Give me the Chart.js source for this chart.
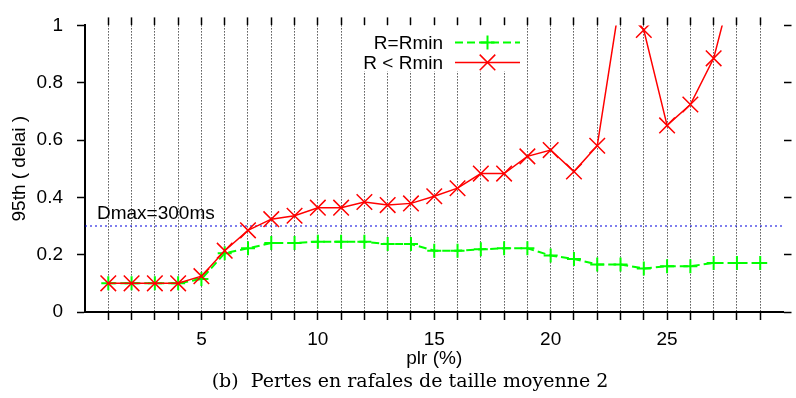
<!DOCTYPE html>
<html>
<head>
<meta charset="utf-8">
<script src="https://cdn.jsdelivr.net/npm/chart.js@4"></script>
<style>
  html, body { margin: 0; padding: 0; background: #fff; }
  #wrap { width: 796px; height: 398px; }
</style>
</head>
<body>
<div id="wrap"><canvas id="c" width="796" height="398"></canvas></div>
<script>
// packet loss rate (%) on the x axis
const plr = [1, 2, 3, 4, 5, 6, 7, 8, 9, 10, 11, 12, 13, 14, 15, 16, 17, 18, 19, 20, 21, 22, 23, 24, 25, 26, 27, 28, 29];
// 95th percentile of delay (s), R = Rmin
const rEqualRmin = [0.10, 0.10, 0.10, 0.10, 0.115, 0.205, 0.222, 0.241, 0.241, 0.245, 0.245, 0.245, 0.237, 0.237, 0.214, 0.214, 0.219, 0.222, 0.222, 0.197, 0.185, 0.166, 0.166, 0.152, 0.160, 0.160, 0.171, 0.171, 0.171];
// 95th percentile of delay (s), R < Rmin (goes off scale above 1)
const rBelowRmin = [0.10, 0.10, 0.10, 0.10, 0.125, 0.214, 0.285, 0.324, 0.336, 0.364, 0.364, 0.384, 0.373, 0.379, 0.404, 0.432, 0.483, 0.483, 0.543, 0.565, 0.490, 0.580, 1.10, 0.984, 0.651, 0.724, 0.885, 1.20, null];
// delay bound
const dmax = 0.3;
const dmaxLabel = 'Dmax=300ms';
const xLabelEvery = 5;
const xRange = [0, 30];
const yRange = [0, 1];
const yStep = 0.2;

const seriesNames = ['R=Rmin', 'R < Rmin'];
const xTitle = 'plr (%)';
const yTitle = '95th ( delai )';
const caption = '(b)  Pertes en rafales de taille moyenne 2';

const SANS = "'Liberation Sans', Arial, Helvetica, sans-serif";
const SERIF = "'DejaVu Serif', 'Liberation Serif', serif";
const FS = 19;

Chart.defaults.color = '#000';
Chart.defaults.font.family = SANS;
Chart.defaults.font.size = FS;

const toPoints = (ys) => plr.map((x, i) => ({ x, y: ys[i] })).filter(p => p.y !== null);

const GREEN = '#00ff00';
const RED = '#ff0000';

const hideEnds = (c) => (c.tick && (c.tick.value <= xRange[0] || c.tick.value >= xRange[1])) ? 'rgba(0,0,0,0)' : '#000';

const fixedSize = (w, h) => (scale) => {
  if (w !== null) scale.width = w;
  if (h !== null) scale.height = h;
};

// legend and annotations in gnuplot style
const decorations = {
  id: 'decorations',
  beforeDatasetsDraw(chart) {
    const { ctx, chartArea: ca } = chart;
    ctx.save();
    ctx.fillStyle = '#fff';
    ctx.fillRect(ca.left + 270, ca.top, 170, 46);
    ctx.restore();
  },
  afterDraw(chart) {
    const { ctx, chartArea: ca, scales } = chart;
    const ds = chart.data.datasets;
    ctx.save();
    // legend
    const textRight = ca.left + 358;
    const sx0 = ca.left + 370, sx1 = ca.left + 435;
    const rows = [ca.top + 17, ca.top + 37];
    ctx.font = FS + 'px ' + SANS;
    ctx.textAlign = 'right';
    ctx.textBaseline = 'middle';
    [0, 1].forEach((i) => {
      const d = ds[i];
      const y = rows[i];
      ctx.fillStyle = '#000';
      ctx.fillText(seriesNames[i], textRight, y + 1);
      ctx.strokeStyle = d.borderColor;
      ctx.lineWidth = d.borderWidth;
      ctx.setLineDash(d.borderDash || []);
      ctx.beginPath();
      ctx.moveTo(sx0, y);
      ctx.lineTo(sx1, y);
      ctx.stroke();
      ctx.setLineDash([]);
      ctx.lineWidth = d.pointBorderWidth;
      Chart.helpers.drawPoint(ctx, {
        pointStyle: d.pointStyle, radius: d.pointRadius, borderWidth: d.pointBorderWidth, rotation: 0
      }, (sx0 + sx1) / 2, y);
    });
    // Dmax label
    ctx.textAlign = 'left';
    ctx.textBaseline = 'alphabetic';
    ctx.fillStyle = '#000';
    ctx.fillText(dmaxLabel, scales.x.getPixelForValue(0) + 12, scales.y.getPixelForValue(dmax) - 7);
    // caption
    ctx.font = '19px ' + SERIF;
    ctx.textAlign = 'center';
    ctx.textBaseline = 'middle';
    ctx.fillText(caption, 410, 382);
    ctx.restore();
  }
};

new Chart(document.getElementById('c'), {
  type: 'line',
  data: {
    datasets: [
      {
        label: seriesNames[0],
        data: toPoints(rEqualRmin),
        borderColor: GREEN,
        backgroundColor: GREEN,
        borderWidth: 2,
        borderDash: [8, 4],
        pointStyle: 'cross',
        pointRadius: 7,
        pointBorderWidth: 2,
        pointBorderColor: GREEN,
        tension: 0,
        order: 2
      },
      {
        label: seriesNames[1],
        data: toPoints(rBelowRmin),
        borderColor: RED,
        backgroundColor: RED,
        borderWidth: 1.5,
        pointStyle: 'crossRot',
        pointRadius: 11,
        pointBorderWidth: 1.5,
        pointBorderColor: RED,
        tension: 0,
        order: 1
      },
      {
        label: 'Dmax',
        data: [{ x: xRange[0], y: dmax }, { x: xRange[1], y: dmax }],
        borderColor: '#0000dd',
        borderWidth: 1.2,
        borderDash: [2, 3],
        pointRadius: 0,
        order: 3
      }
    ]
  },
  options: {
    responsive: false,
    animation: false,
    events: [],
    devicePixelRatio: 1,
    layout: { padding: 0 },
    plugins: { legend: { display: false }, tooltip: { enabled: false } },
    scales: {
      x: {
        type: 'linear', position: 'bottom',
        min: xRange[0], max: xRange[1],
        afterFit: fixedSize(null, 86),
        ticks: {
          stepSize: 1, autoSkip: false, maxRotation: 0, padding: 8,
          callback: (v) => (v % xLabelEvery === 0 && v > xRange[0] && v < xRange[1]) ? String(v) : ''
        },
        grid: { color: hideEnds, tickColor: hideEnds, lineWidth: 1, tickLength: 8, tickWidth: 1.5 },
        border: { display: true, color: '#000', width: 2, dash: [1, 2] },
        title: { display: true, text: xTitle, font: { size: FS }, padding: { top: 0, bottom: 28 } }
      },
      xTop: {
        type: 'linear', position: 'top',
        min: xRange[0], max: xRange[1],
        afterFit: fixedSize(null, 17.5),
        ticks: { stepSize: 1, autoSkip: false, display: false },
        grid: { drawOnChartArea: false, tickColor: hideEnds, tickLength: 8, tickWidth: 1.5 },
        border: { display: false }
      },
      y: {
        type: 'linear', position: 'left',
        min: yRange[0], max: yRange[1],
        afterFit: fixedSize(85, null),
        ticks: { stepSize: yStep, padding: 14, callback: (v) => String(Number(v.toFixed(1))) },
        grid: { drawOnChartArea: false, tickColor: '#000', tickLength: 8, tickWidth: 1.5 },
        border: { display: true, color: '#000', width: 2 },
        title: { display: true, text: yTitle, font: { size: FS }, padding: { top: 8, bottom: 0 } }
      },
      yRight: {
        type: 'linear', position: 'right',
        min: yRange[0], max: yRange[1],
        afterFit: fixedSize(1, null),
        ticks: { stepSize: yStep, display: false },
        grid: { drawOnChartArea: false, tickColor: '#000', tickLength: 8, tickWidth: 1.5 },
        border: { display: false }
      }
    }
  },
  plugins: [decorations]
});
</script>
</body>
</html>
